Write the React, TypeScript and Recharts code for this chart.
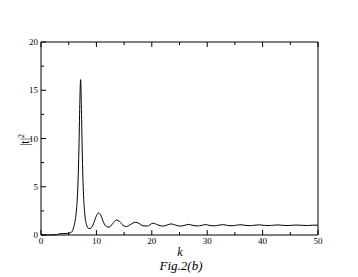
import { LineChart, Line, XAxis, YAxis } from "recharts"

const kValues = [
  0, 1, 2, 2.8, 3.3, 4, 4.8, 5.4, 5.8, 6.1, 6.4, 6.65, 6.85, 7.0, 7.15, 7.3, 7.45, 7.65, 7.9, 8.2,
  8.6, 9.0, 9.5, 10.0, 10.4, 10.8, 11.3, 11.8, 12.3, 12.9, 13.6, 14.2, 14.8, 15.4, 16.2, 17.0, 17.7,
  18.4, 19.2, 20.2, 21.1, 21.9, 22.6, 23.5, 24.3, 25.0, 25.8, 26.6, 27.4, 28.2, 29.0, 29.7, 30.5,
  31.3, 32.1, 32.9, 33.7, 34.5, 35.3, 36.1, 37.0, 37.8, 38.6, 39.4, 40.3, 41.2, 42.0, 42.8, 43.7,
  44.6, 45.5, 46.3, 47.2, 48.1, 49.0, 50.0,
]
const t2Values = [
  0, 0, 0.01, 0.03, 0.12, 0.15, 0.17, 0.25, 0.6, 1.3, 2.6, 5.0, 9.0, 13.5, 16.1, 13.0, 8.5, 4.5, 2.2, 1.1,
  0.68, 0.7, 1.2, 2.0, 2.3, 2.05, 1.3, 0.88, 0.82, 1.15, 1.55, 1.4, 1.0, 0.88, 1.1, 1.32, 1.2,
  0.95, 0.93, 1.22, 1.05, 0.92, 1.0, 1.15, 1.02, 0.93, 0.98, 1.1, 1.0, 0.94, 1.0, 1.08, 0.98,
  0.95, 1.02, 1.07, 0.99, 0.96, 1.02, 1.06, 0.99, 0.97, 1.02, 1.05, 1.0, 0.98, 1.02, 1.04, 1.0,
  0.98, 1.02, 1.03, 1.0, 0.98, 1.02, 1.02,
]
const xTicks = [0, 5, 10, 15, 20, 25, 30, 35, 40, 45, 50]
const yTicks = [0, 2.5, 5, 7.5, 10, 12.5, 15, 17.5, 20]

const data = kValues.map((k, i) => ({ k, t2: t2Values[i] }))

const font = "'Liberation Serif', 'DejaVu Serif', serif"

function XTick(props: any) {
  const { x, y, payload, top } = props
  const major = payload.value % 10 === 0
  const len = major ? 5 : 3
  return (
    <g>
      <line x1={x} x2={x} y1={y} y2={top ? y + len : y - len} stroke="#000" />
      {!top && major && (
        <text x={x} y={y + 9} textAnchor="middle" fontSize={9} fontFamily={font} fill="#000">
          {payload.value}
        </text>
      )}
    </g>
  )
}

function YTick(props: any) {
  const { x, y, payload, right } = props
  const major = payload.value % 5 === 0
  const len = major ? 5 : 3
  return (
    <g>
      <line x1={x} x2={right ? x - len : x + len} y1={y} y2={y} stroke="#000" />
      {!right && major && (
        <text x={x - 3} y={y + 3} textAnchor="end" fontSize={9} fontFamily={font} fill="#000">
          {payload.value}
        </text>
      )}
    </g>
  )
}

export default function App() {
  return (
    <div style={{ position: "absolute", left: 0, top: 0, width: 358, height: 277, background: "#fff" }}>
      <LineChart width={358} height={277} data={data} margin={{ top: 41, right: 39, bottom: 12, left: 11 }}>
        <XAxis
          dataKey="k"
          type="number"
          domain={[0, 50]}
          ticks={xTicks}
          interval={0}
          height={30}
          tickSize={0}
          tickMargin={0}
          stroke="#000"
          tick={<XTick />}
        />
        <XAxis
          xAxisId="top"
          orientation="top"
          dataKey="k"
          type="number"
          domain={[0, 50]}
          ticks={xTicks}
          interval={0}
          height={1}
          tickSize={0}
          tickMargin={0}
          stroke="#000"
          tick={<XTick top />}
        />
        <YAxis
          type="number"
          domain={[0, 20]}
          ticks={yTicks}
          interval={0}
          width={30}
          tickSize={0}
          tickMargin={0}
          stroke="#000"
          tick={<YTick />}
        />
        <YAxis
          yAxisId="right"
          orientation="right"
          type="number"
          domain={[0, 20]}
          ticks={yTicks}
          interval={0}
          width={1}
          tickSize={0}
          tickMargin={0}
          stroke="#000"
          tick={<YTick right />}
        />
        <Line
          dataKey="t2"
          type="monotone"
          dot={false}
          stroke="#000"
          strokeWidth={1}
          isAnimationActive={false}
        />
      </LineChart>
      <div
        style={{
          position: "absolute",
          left: 24,
          top: 140,
          transform: "translate(-50%, -50%) rotate(-90deg)",
          fontFamily: font,
          fontSize: 12,
          whiteSpace: "nowrap",
          lineHeight: 1,
        }}
      >
        |t|<sup style={{ fontSize: 8 }}>2</sup>
      </div>
      <div
        style={{
          position: "absolute",
          left: 180,
          top: 252,
          transform: "translate(-50%, -50%)",
          fontFamily: font,
          fontStyle: "italic",
          fontSize: 12,
          lineHeight: 1,
        }}
      >
        k
      </div>
      <div
        style={{
          position: "absolute",
          left: 181,
          top: 265,
          transform: "translate(-50%, -50%)",
          fontFamily: font,
          fontStyle: "italic",
          fontSize: 13,
          lineHeight: 1,
          whiteSpace: "nowrap",
        }}
      >
        Fig.2(b)
      </div>
    </div>
  )
}
